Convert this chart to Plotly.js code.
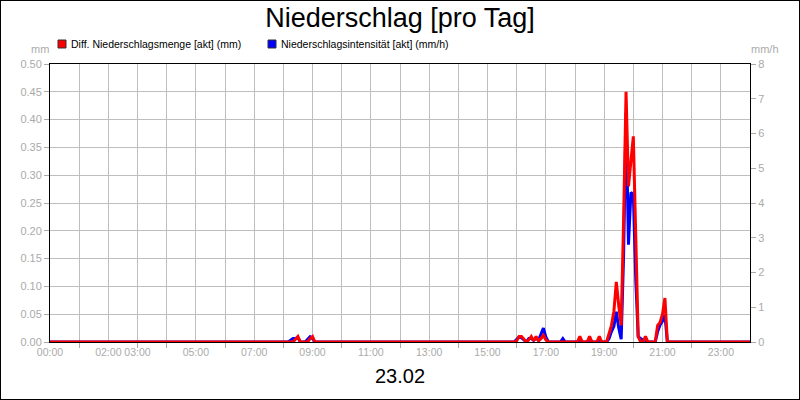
<!DOCTYPE html>
<html>
<head>
<meta charset="utf-8">
<script src="https://cdn.plot.ly/plotly-3.0.1.min.js"></script>
<style>
  body { margin: 0; background: #fff; }
  #chart { width: 798px; height: 398px; border: 1px solid #000; }
</style>
</head>
<body>
<div id="chart"></div>
<script>
// Tag des Diagramms
var day = '2024-02-23';
var dayLabel = '23.02';

// Messzeitpunkte (5-Minuten-Werte, Nullstrecken nur an den Raendern)
var times = ['00:00', '08:10', '08:15', '08:20', '08:25', '08:30', '08:35', '08:45', '08:50', '08:55',
             '09:00', '09:05', '15:55', '16:00', '16:05', '16:10', '16:15', '16:20', '16:25', '16:30',
             '16:35', '16:40', '16:45', '16:50', '16:55', '17:00', '17:05', '17:30', '17:35', '17:40',
             '18:05', '18:10', '18:15', '18:25', '18:30', '18:35', '18:45', '18:50', '18:55', '19:05',
             '19:10', '19:15', '19:20', '19:25', '19:30', '19:35', '19:40', '19:45', '19:50', '19:55',
             '20:00', '20:05', '20:10', '20:15', '20:20', '20:25', '20:30', '20:45', '20:50', '20:55',
             '21:00', '21:05', '21:10', '24:00'];

// Diff. Niederschlagsmenge [akt] (mm)
var menge = [0, 0, 0, 0, 0.005, 0.01, 0, 0, 0, 0.006,
             0.01, 0, 0, 0.002, 0.01, 0.01, 0.005, 0, 0.004, 0.01,
             0.002, 0.01, 0.002, 0.006, 0.012, 0.004, 0, 0, 0, 0,
             0, 0.01, 0, 0, 0.01, 0, 0, 0.01, 0, 0,
             0.015, 0.03, 0.055, 0.108, 0.065, 0.03, 0.22, 0.45, 0.28, 0.32,
             0.37, 0.19, 0.01, 0, 0, 0.01, 0, 0, 0.03, 0.035,
             0.05, 0.079, 0, 0];

// Niederschlagsintensitaet [akt] (mm/h)
var intensitaet = [0, 0, 0.05, 0.1, 0.1, 0.12, 0, 0, 0.08, 0.15,
                   0.1, 0, 0, 0.08, 0.15, 0.12, 0.05, 0, 0.1, 0.1,
                   0.05, 0.12, 0.05, 0.2, 0.4, 0.15, 0, 0, 0.1, 0,
                   0, 0.08, 0, 0, 0.08, 0, 0, 0.08, 0, 0,
                   0.1, 0.3, 0.45, 0.87, 0.4, 0.08, 2.5, 6.6, 2.8, 4.3,
                   4.25, 1.8, 0.15, 0.1, 0.05, 0, 0, 0, 0.3, 0.49,
                   0.6, 0.78, 0, 0];

// Achsenbeschriftung unten
var tickHours = [0, 2, 3, 5, 7, 9, 11, 13, 15, 17, 19, 21, 23];
var tickMarkHours = [1, 3, 4, 6, 8, 10, 12, 14, 16, 18, 20, 22];

var legendNames = ['Diff. Niederschlagsmenge [akt] (mm)', 'Niederschlagsintensität [akt] (mm/h)'];
var legendColors = ['#ff0000', '#0000ff'];

var fontName = '"Liberation Sans", Arial, sans-serif';
var gray = '#aaaaaa';

function toDate(t) {
    if (t == '24:00') return '2024-02-24 00:00';
    return day + ' ' + t;
}

function hourDate(h) {
    var s = (h < 10 ? '0' : '') + h + ':00';
    return toDate(s);
}

var xTimes = times.map(toDate);

var allHours = [];
var allText = [];
for (i = 0; i <= 24; i++) {
    allHours.push(hourDate(i));
    var idx = tickHours.indexOf(i);
    allText.push(idx >= 0 ? ((i < 10 ? '0' : '') + i + ':00') : '');
}

// blau liegt auf der Grundachse (rechts), rot auf der ueberlagerten Achse (links) -> rot oben
var traceBlue = {
    x: xTimes, y: intensitaet, yaxis: 'y', type: 'scatter', mode: 'lines',
    line: {color: legendColors[1], width: 3}, name: legendNames[1], hoverinfo: 'skip'
};
var traceRed = {
    x: xTimes, y: menge, yaxis: 'y2', type: 'scatter', mode: 'lines',
    line: {color: legendColors[0], width: 3}, name: legendNames[0], hoverinfo: 'skip'
};

// Legende von Hand (Quadrate + Text)
var shapes = [];
var annotations = [];
var legendX = [58, 268];
for (i = 0; i < 2; i++) {
    shapes.push({
        type: 'rect', xref: 'paper', yref: 'paper',
        x0: (legendX[i] - 50) / 700, x1: (legendX[i] + 8 - 50) / 700,
        y0: (342 - 48) / 278, y1: (342 - 40) / 278,
        fillcolor: legendColors[i], line: {color: '#333', width: 1}
    });
    annotations.push({
        text: legendNames[i], xref: 'paper', yref: 'paper',
        x: (legendX[i] + 11 - 50) / 700, y: (342 - 44) / 278,
        xanchor: 'left', yanchor: 'middle', showarrow: false,
        font: {family: fontName, size: 10.5, color: '#000'}
    });
}
annotations.push({
    text: 'mm', xref: 'paper', yref: 'paper', x: (40 - 50) / 700, y: (342 - 49) / 278,
    xanchor: 'center', yanchor: 'middle', showarrow: false, font: {family: fontName, size: 11, color: gray}
});
annotations.push({
    text: 'mm/h', xref: 'paper', yref: 'paper', x: (765 - 50) / 700, y: (342 - 49) / 278,
    xanchor: 'center', yanchor: 'middle', showarrow: false, font: {family: fontName, size: 11, color: gray}
});
annotations.push({
    text: dayLabel, xref: 'paper', yref: 'paper', x: 0.5, y: (342 - 376) / 278,
    xanchor: 'center', yanchor: 'middle', showarrow: false, font: {family: fontName, size: 20, color: '#000'}
});

var layout = {
    width: 798, height: 398,
    margin: {l: 49, r: 49, t: 63, b: 57},
    paper_bgcolor: '#fff', plot_bgcolor: '#fff',
    showlegend: false,
    title: {text: 'Niederschlag [pro Tag]', font: {family: fontName, size: 27, color: '#000'},
            xref: 'paper', x: 0.5, xanchor: 'center', yref: 'container', y: 1 - 17 / 398, yanchor: 'middle'},
    xaxis: {
        type: 'date', range: [toDate('00:00'), toDate('24:00')],
        tickmode: 'array', tickvals: allHours, ticktext: allText, ticks: '', tickangle: 0,
        showgrid: true, gridcolor: '#bebebe', gridwidth: 1,
        minor: {tickmode: 'array', tickvals: tickMarkHours.map(hourDate), ticks: 'outside',
                ticklen: 5, tickcolor: gray, showgrid: false},
        showline: true, linecolor: '#000', linewidth: 1, mirror: true,
        zeroline: false, fixedrange: true,
        tickfont: {family: fontName, size: 10.5, color: gray}
    },
    // mm/h rechts
    yaxis: {
        range: [0, 8], dtick: 1, tick0: 0, side: 'right',
        ticks: 'outside', ticklen: 5, tickcolor: gray,
        showgrid: false, showline: true, linecolor: '#000', linewidth: 1,
        zeroline: false, fixedrange: true,
        tickfont: {family: fontName, size: 11, color: gray}
    },
    // mm links
    yaxis2: {
        range: [0, 0.5], dtick: 0.05, tick0: 0, tickformat: '.2f', overlaying: 'y', side: 'left',
        ticks: 'outside', ticklen: 5, tickcolor: gray,
        showgrid: true, gridcolor: '#bebebe', gridwidth: 1,
        showline: true, linecolor: '#000', linewidth: 1,
        zeroline: false, fixedrange: true,
        tickfont: {family: fontName, size: 11, color: gray}
    },
    shapes: shapes,
    annotations: annotations
};

Plotly.newPlot('chart', [traceBlue, traceRed], layout, {staticPlot: true});
</script>
</body>
</html>
